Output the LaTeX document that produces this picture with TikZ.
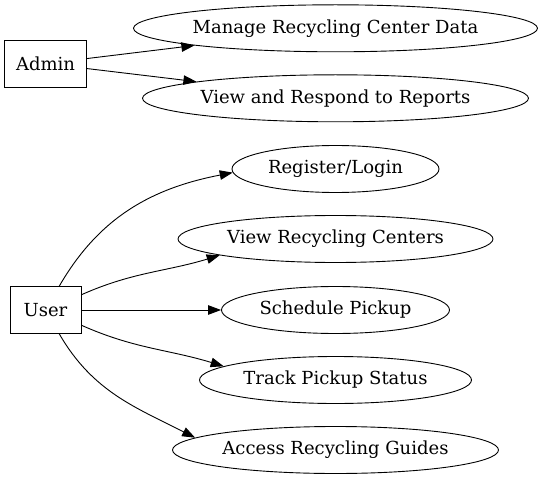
\documentclass[tikz,border=0pt]{standalone}
\usepackage{fontspec}
\setmainfont{DejaVu Serif}
\usetikzlibrary{shapes.geometric,arrows.meta}
\begin{document}
\begin{tikzpicture}[x=1pt,y=1pt,
    font=\fontsize{18}{21}\selectfont,
    actor/.style={draw,rectangle,inner sep=0pt,minimum height=47pt},
    usecase/.style={draw,ellipse,inner sep=0pt,minimum height=47pt}]
      \useasboundingbox (0,0) rectangle (543,480);
      \draw[line width=0.9pt]
        (45.5,416.4) node[actor,minimum width=82pt] (admin){Admin}
        (45.5,170) node[actor,minimum width=71pt] (user){User}
        (335.5,451.7) node[usecase,minimum width=404pt] (manage){Manage Recycling Center Data}
        (335.5,381.7) node[usecase,minimum width=386pt] (reports){View and Respond to Reports}
        (335.5,311) node[usecase,minimum width=207pt] (login){Register/Login}
        (335.5,241) node[usecase,minimum width=315pt] (centers){View Recycling Centers}
        (335.5,170) node[usecase,minimum width=228pt] (pickup){Schedule Pickup}
        (335.5,100) node[usecase,minimum width=272pt] (status){Track Pickup Status}
        (335.5,30) node[usecase,minimum width=326pt] (guides){Access Recycling Guides};
      \begin{scope}[line width=0.9pt,-{Triangle[length=13pt,width=9.5pt]}]
        \draw (admin) to (manage);
        \draw (admin) to (reports);
        \draw (user.60) to[out=60,in=191] (login.182);
        \draw (user.23) to[out=24,in=197] (centers.188);
        \draw (user) to (pickup);
        \draw (user.-23) to[out=-24,in=163] (status.173);
        \draw (user.-60) to[out=-60,in=153] (guides.175);
      \end{scope}
    \end{tikzpicture}
\end{document}
